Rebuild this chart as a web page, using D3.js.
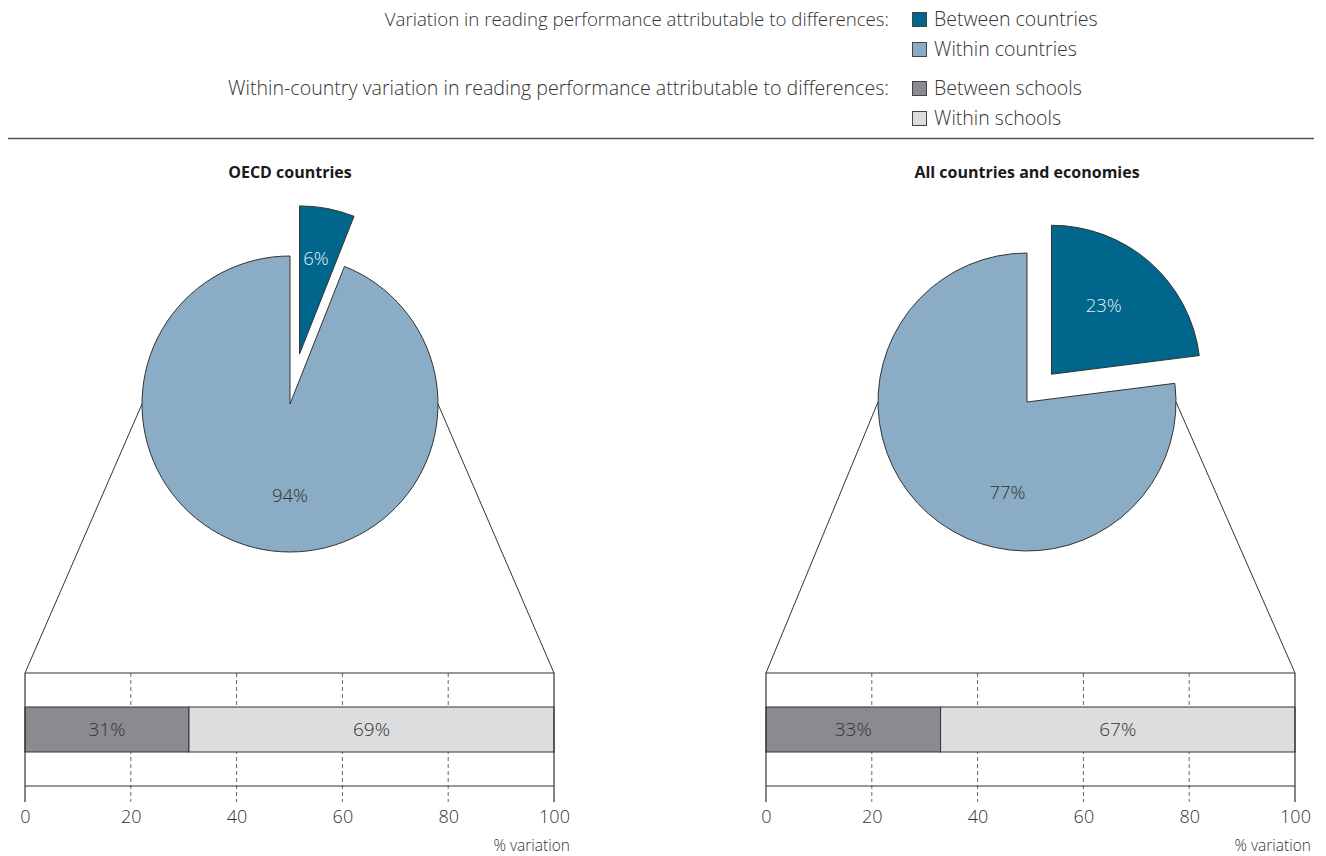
<!DOCTYPE html>
<html>
<head>
<meta charset="utf-8">
<script src="https://cdn.jsdelivr.net/npm/d3@7"></script>
<style>
  body { margin: 0; background: #fff; }
  svg text { font-family: "Open Sans", "Noto Sans", sans-serif; }
</style>
</head>
<body>
<div id="chart"></div>
<script>
// data
var panelTitles = ["OECD countries", "All countries and economies"];
var betweenCountries = [6, 23];
var withinCountries = [94, 77];
var betweenSchools = [31, 33];
var withinSchools = [69, 67];
var axisTicks = [0, 20, 40, 60, 80, 100];
var legendHeads = ["Variation in reading performance attributable to differences:",
                   "Within-country variation in reading performance attributable to differences:"];
var legendLabels = ["Between countries", "Within countries", "Between schools", "Within schools"];
var colors = ["#00668c", "#8aacc4", "#8a8b8e", "#dcdddf"];

var W = 1326, H = 856;
var svg = d3.select("#chart").append("svg")
  .attr("width", W)
  .attr("height", H);

// legend
var legRows = [19, 49, 88, 118];
var legend = svg.append("g");
legend.selectAll(".head")
  .data(legendHeads)
  .enter()
  .append("text")
  .attr("x", 889)
  .attr("y", function(d, i) { return legRows[i * 2]; })
  .attr("dy", "0.35em")
  .attr("text-anchor", "end")
  .attr("font-size", function(d, i) { return i === 0 ? 18.7 : 19.6; })
  .attr("font-weight", 300)
  .attr("fill", "#333")
  .text(function(d) { return d; });

var items = legend.selectAll(".item")
  .data(legendLabels)
  .enter()
  .append("g")
  .attr("transform", function(d, i) { return "translate(912," + legRows[i] + ")"; });
items.append("rect")
  .attr("x", 0.5).attr("y", -6.5)
  .attr("width", 14).attr("height", 14)
  .attr("fill", function(d, i) { return colors[i]; })
  .attr("stroke", "#444")
  .attr("stroke-width", 1);
items.append("text")
  .attr("x", 22)
  .attr("dy", "0.35em")
  .attr("font-size", 19.5)
  .attr("font-weight", 300)
  .attr("fill", "#333")
  .text(function(d) { return d; });

// separator
svg.append("line")
  .attr("x1", 8).attr("x2", 1314)
  .attr("y1", 138.5).attr("y2", 138.5)
  .attr("stroke", "#555")
  .attr("stroke-width", 1.5);

// panels
var panels = [
  {cx: 290, cy: 404, r: 148, explode: 51, x0: 25, x1: 554},
  {cx: 1027, cy: 402, r: 149, explode: 37, x0: 766, x1: 1295}
];
var barTop = 673, barBottom = 786, tickEnd = 802, segTop = 707, segBottom = 752;

var pie = d3.pie().sort(null).value(function(d) { return d; });

panels.forEach(function(p, k) {
  var g = svg.append("g");

  var x = d3.scaleLinear().domain([0, 100]).range([p.x0, p.x1]);

  // title
  g.append("text")
    .attr("x", p.cx)
    .attr("y", 172)
    .attr("dy", "0.35em")
    .attr("text-anchor", "middle")
    .attr("font-size", 16)
    .attr("font-weight", 700)
    .attr("fill", "#1a1a1a")
    .text(panelTitles[k]);

  // connector lines from pie to bar box
  g.append("line")
    .attr("x1", p.cx - p.r).attr("y1", p.cy)
    .attr("x2", x(0)).attr("y2", barTop)
    .attr("stroke", "#333").attr("stroke-width", 1);
  g.append("line")
    .attr("x1", p.cx + p.r).attr("y1", p.cy)
    .attr("x2", x(100)).attr("y2", barTop)
    .attr("stroke", "#333").attr("stroke-width", 1);

  // pie
  var arcs = pie([betweenCountries[k], withinCountries[k]]);
  var arc = d3.arc().innerRadius(0).outerRadius(p.r);
  var pg = g.append("g").attr("transform", "translate(" + p.cx + "," + p.cy + ")");

  var slices = pg.selectAll(".slice")
    .data(arcs)
    .enter()
    .append("g")
    .attr("transform", function(d, i) {
      if (i !== 0) return null;
      var a = (d.startAngle + d.endAngle) / 2;
      return "translate(" + (p.explode * Math.sin(a)) + "," + (-p.explode * Math.cos(a)) + ")";
    });
  slices.append("path")
    .attr("d", arc)
    .attr("fill", function(d, i) { return colors[i]; })
    .attr("stroke", "#333")
    .attr("stroke-width", 1)
    .attr("stroke-linejoin", "round");
  slices.append("text")
    .attr("transform", function(d, i) {
      var a = (d.startAngle + d.endAngle) / 2;
      var rr;
      if (i === 0) {
        a = a * 0.9;
        rr = p.r * (0.68 - (d.endAngle - d.startAngle) * 0.07);
      } else {
        a = Math.PI + Math.max(0, a - Math.PI - 0.19) * 0.4;
        rr = p.r * 0.62;
      }
      return "translate(" + (rr * Math.sin(a)) + "," + (-rr * Math.cos(a)) + ")";
    })
    .attr("dy", "0.35em")
    .attr("text-anchor", "middle")
    .attr("font-size", 18.5)
    .attr("font-weight", 300)
    .attr("fill", function(d, i) { return i === 0 ? "#e6eef3" : "#333"; })
    .text(function(d) { return d.data + "%"; });

  // bar box
  g.selectAll(".grid")
    .data(axisTicks.slice(1, -1))
    .enter()
    .append("line")
    .attr("x1", function(d) { return x(d); })
    .attr("x2", function(d) { return x(d); })
    .attr("y1", barTop).attr("y2", tickEnd)
    .attr("stroke", "#666")
    .attr("stroke-width", 1)
    .attr("stroke-dasharray", "4,3");

  var segs = [
    {v0: 0, v1: betweenSchools[k], c: colors[2]},
    {v0: betweenSchools[k], v1: betweenSchools[k] + withinSchools[k], c: colors[3]}
  ];
  g.selectAll(".seg")
    .data(segs)
    .enter()
    .append("rect")
    .attr("x", function(d) { return x(d.v0); })
    .attr("width", function(d) { return x(d.v1) - x(d.v0); })
    .attr("y", segTop)
    .attr("height", segBottom - segTop)
    .attr("fill", function(d) { return d.c; })
    .attr("stroke", "#333")
    .attr("stroke-width", 1);
  g.selectAll(".segLabel")
    .data(segs)
    .enter()
    .append("text")
    .attr("x", function(d) { return (x(d.v0) + x(d.v1)) / 2; })
    .attr("y", (segTop + segBottom) / 2)
    .attr("dy", "0.35em")
    .attr("text-anchor", "middle")
    .attr("font-size", 19)
    .attr("font-weight", 300)
    .attr("fill", "#333")
    .text(function(d) { return (d.v1 - d.v0) + "%"; });

  g.append("line")
    .attr("x1", x(0)).attr("x2", x(100))
    .attr("y1", barTop).attr("y2", barTop)
    .attr("stroke", "#333").attr("stroke-width", 1.2);
  g.append("line")
    .attr("x1", x(0)).attr("x2", x(100))
    .attr("y1", barBottom).attr("y2", barBottom)
    .attr("stroke", "#333").attr("stroke-width", 1.2);
  [0, 100].forEach(function(v) {
    g.append("line")
      .attr("x1", x(v)).attr("x2", x(v))
      .attr("y1", barTop).attr("y2", tickEnd)
      .attr("stroke", "#333").attr("stroke-width", 1.2);
  });

  // axis
  var axis = g.append("g")
    .attr("transform", "translate(0," + tickEnd + ")")
    .call(d3.axisBottom(x).tickValues(axisTicks).tickSize(0).tickPadding(8));
  axis.select(".domain").remove();
  axis.selectAll("text")
    .attr("font-family", "Open Sans, sans-serif")
    .attr("font-size", 18)
    .attr("font-weight", 300)
    .attr("fill", "#333");

  g.append("text")
    .attr("x", x(100) + 16)
    .attr("y", 846)
    .attr("dy", "0.35em")
    .attr("text-anchor", "end")
    .attr("font-size", 15.5)
    .attr("font-weight", 300)
    .attr("fill", "#333")
    .text("% variation");
});
</script>
</body>
</html>
